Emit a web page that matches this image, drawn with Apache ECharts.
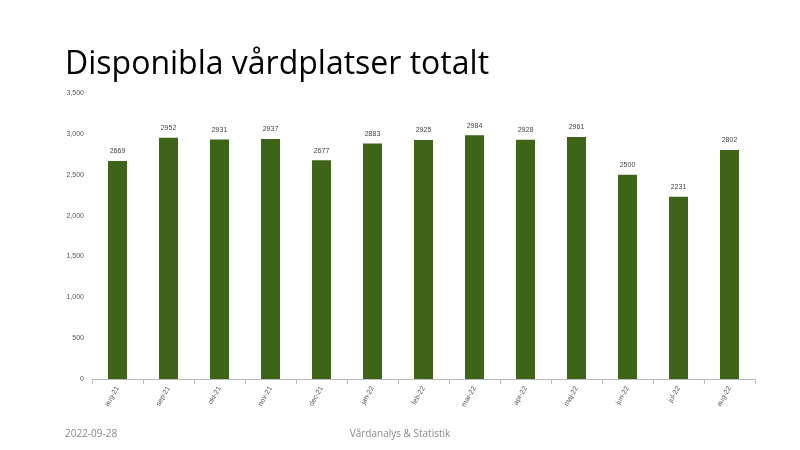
<!DOCTYPE html><html><head><meta charset="utf-8"><script src="https://cdn.jsdelivr.net/npm/echarts@6/dist/echarts.min.js"></script>
<style>body{margin:0}#c{width:800px;height:450px}</style></head><body><div id="c"></div><script>
const categories=['aug-21','sep-21','okt-21','nov-21','dec-21','jan-22','feb-22','mar-22','apr-22','maj-22','jun-22','jul-22','aug-22'];
const values=[2669,2952,2931,2937,2677,2883,2925,2984,2928,2961,2500,2231,2802];
const c=echarts.init(document.getElementById('c'));
c.setOption({animation:false,
title:[{text:'Disponibla vårdplatser totalt',left:60,top:44,textStyle:{fontFamily:'Open Sans',fontWeight:'normal',fontSize:32,color:'#000'}},
{text:'2022-09-28',left:60,top:424,textStyle:{fontFamily:'Open Sans',fontWeight:'normal',fontSize:10,color:'#888'}},
{text:'Vårdanalys & Statistik',left:'center',top:424,textStyle:{fontFamily:'Open Sans',fontWeight:'normal',fontSize:10,color:'#888'}}],
grid:{left:92,right:45,top:93,bottom:71},
xAxis:{type:'category',data:categories,axisLine:{lineStyle:{color:'#bbb'}},axisTick:{show:true,lineStyle:{color:'#bbb'}},
axisLabel:{rotate:60,fontSize:7,color:'#555',interval:0}},
yAxis:{type:'value',min:0,max:3500,interval:500,splitLine:{show:false},axisLabel:{fontSize:7,color:'#555'}},
series:[{type:'bar',data:values,barWidth:19,itemStyle:{color:'#3e6418'},label:{show:true,position:'top',fontSize:7,color:'#444',distance:6}}]});
</script></body></html>
